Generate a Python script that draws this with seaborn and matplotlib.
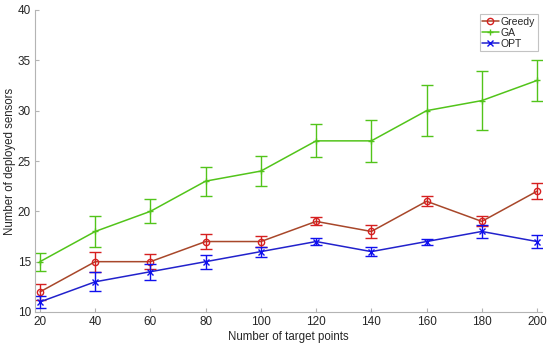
import numpy as np
import pandas as pd
import matplotlib
matplotlib.use("Agg")
import matplotlib.pyplot as plt
import seaborn as sns

targets = [20, 40, 60, 80, 100, 120, 140, 160, 180, 200]

greedy_mean = [12, 15, 15, 17, 17, 19, 18, 21, 19, 22]
greedy_err  = [0.8, 1.0, 0.75, 0.75, 0.5, 0.4, 0.6, 0.5, 0.5, 0.8]

ga_mean = [15, 18, 20, 23, 24, 27, 27, 30, 31, 33]
ga_err  = [0.9, 1.5, 1.2, 1.45, 1.45, 1.65, 2.05, 2.55, 2.9, 2.05]

opt_mean = [11, 13, 14, 15, 16, 17, 16, 17, 18, 17]
opt_err  = [0.6, 0.95, 0.8, 0.7, 0.5, 0.35, 0.45, 0.3, 0.6, 0.65]

sns.set_style("ticks")
plt.rcParams["font.family"] = ["Liberation Sans", "DejaVu Sans"]

fig = plt.figure(figsize=(5.5, 3.48), dpi=100)
ax = fig.add_axes([35 / 550, 1 - 312 / 348, 507 / 550, 302 / 348])

series = [
    ("Greedy", greedy_mean, greedy_err, "o", "#a8472a", "#d62020"),
    ("GA",     ga_mean,     ga_err,     "+", "#52c41a", "#52c41a"),
    ("OPT",    opt_mean,    opt_err,    "x", "#2222cc", "#1010ee"),
]

for name, mean, err, mk, line_col, err_col in series:
    df = pd.DataFrame({"x": targets, "y": mean})
    sns.lineplot(
        data            = df,
        x               = "x",
        y               = "y",
        color           = line_col,
        marker          = mk,
        markersize      = 4.5,
        markerfacecolor = "none" if mk == "o" else err_col,
        markeredgecolor = err_col,
        markeredgewidth = 1,
        linewidth       = 1.1,
        label           = name,
        ax              = ax,
    )
    ax.errorbar(targets, mean, yerr=err, fmt="none", ecolor=err_col,
                elinewidth=1, capsize=4, capthick=1)

ax.set_xlim(18.2, 201.8)
ax.set_ylim(10, 40)
ax.set_xticks(targets)
ax.set_yticks([10, 15, 20, 25, 30, 35, 40])
ax.set_xlabel("Number of target points", fontsize=8.3, color="#262626", labelpad=2)
ax.set_ylabel("Number of deployed sensors", fontsize=8.3, color="#262626", labelpad=1)

for side in ["top", "right"]:
    ax.spines[side].set_visible(False)
for side in ["left", "bottom"]:
    ax.spines[side].set_color("#b4b4b4")
    ax.spines[side].set_linewidth(0.8)
ax.tick_params(direction="in", length=3, color="#b4b4b4", labelsize=8.5,
               labelcolor="#262626", pad=3)

leg = ax.legend(loc="upper right", fontsize=7.5, frameon=True, fancybox=False,
                handlelength=1.6, handletextpad=0.2, borderpad=0.25,
                labelspacing=0.1, borderaxespad=0.4)
leg.get_frame().set_edgecolor("#b4b4b4")
leg.get_frame().set_linewidth(0.8)

fig.savefig("out.png", dpi=100)
